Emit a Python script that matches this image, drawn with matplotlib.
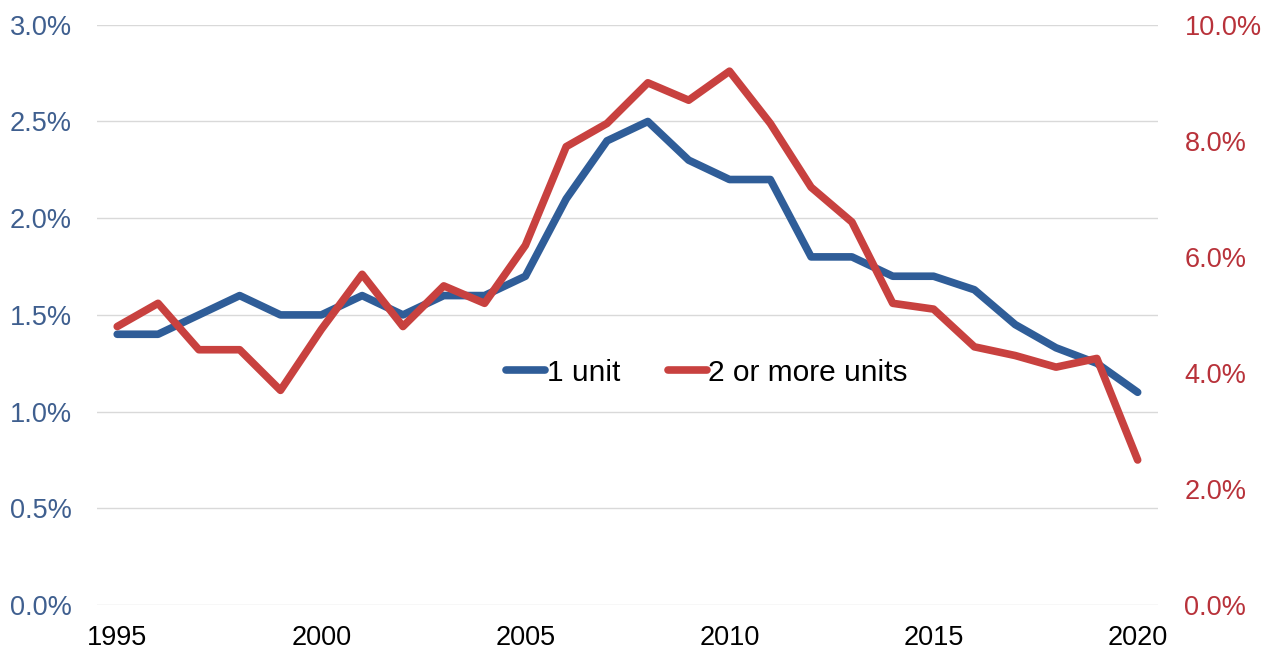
import matplotlib
matplotlib.use('Agg')
import matplotlib.pyplot as plt
from matplotlib.ticker import FuncFormatter

plt.rcParams['font.family'] = ['Liberation Sans', 'DejaVu Sans']

years = list(range(1995, 2021))
one_unit = [1.40, 1.40, 1.50, 1.60, 1.50, 1.50, 1.60, 1.50, 1.60, 1.60,
            1.70, 2.10, 2.40, 2.50, 2.30, 2.20, 2.20, 1.80, 1.80, 1.70,
            1.70, 1.63, 1.45, 1.33, 1.25, 1.10]
two_plus = [4.8, 5.2, 4.4, 4.4, 3.7, 4.75, 5.7, 4.8, 5.5, 5.2,
            6.2, 7.9, 8.3, 9.0, 8.7, 9.2, 8.3, 7.2, 6.6, 5.2,
            5.1, 4.45, 4.3, 4.1, 4.25, 2.5]

blue = '#2F5D98'
red = '#C8413F'
fs = 19.5

fig = plt.figure(figsize=(12.74, 6.52), dpi=100)
ax = fig.add_axes([0.076, 0.072, 0.833, 0.89])
ax2 = ax.twinx()

l1, = ax.plot(years, one_unit, color=blue, lw=5.5, solid_joinstyle='round',
              solid_capstyle='round', label='1 unit')
l2, = ax2.plot(years, two_plus, color=red, lw=5.5, solid_joinstyle='round',
               solid_capstyle='round', label='2 or more units')

ax.set_xlim(1994.5, 2020.5)
ax.set_ylim(0, 3.0)
ax2.set_ylim(0, 10.0)
ax.set_yticks([0, 0.5, 1.0, 1.5, 2.0, 2.5, 3.0])
ax2.set_yticks([0, 2, 4, 6, 8, 10])
ax.set_xticks([1995, 2000, 2005, 2010, 2015, 2020])

ax.yaxis.set_major_formatter(FuncFormatter(lambda v, p: f'{v:.1f}%'))
ax2.yaxis.set_major_formatter(FuncFormatter(lambda v, p: f'{v:.1f}%'))

ax.grid(axis='y', color='#D9D9D9', lw=1)
ax.set_axisbelow(True)
for a in (ax, ax2):
    for s in a.spines.values():
        s.set_visible(False)
    a.tick_params(length=0, labelsize=fs)
ax.tick_params(axis='y', colors='#3F5F8F', pad=18)
ax.tick_params(axis='x', colors='black', pad=14)
ax2.tick_params(axis='y', colors='#B8323A', pad=19)

ax.legend(handles=[l1, l2], loc='center', bbox_to_anchor=(0.575, 0.40),
          ncol=2, frameon=False, fontsize=21.5, handlelength=1.3,
          handletextpad=0.05, columnspacing=1.6)

fig.savefig('out.png', dpi=100)
